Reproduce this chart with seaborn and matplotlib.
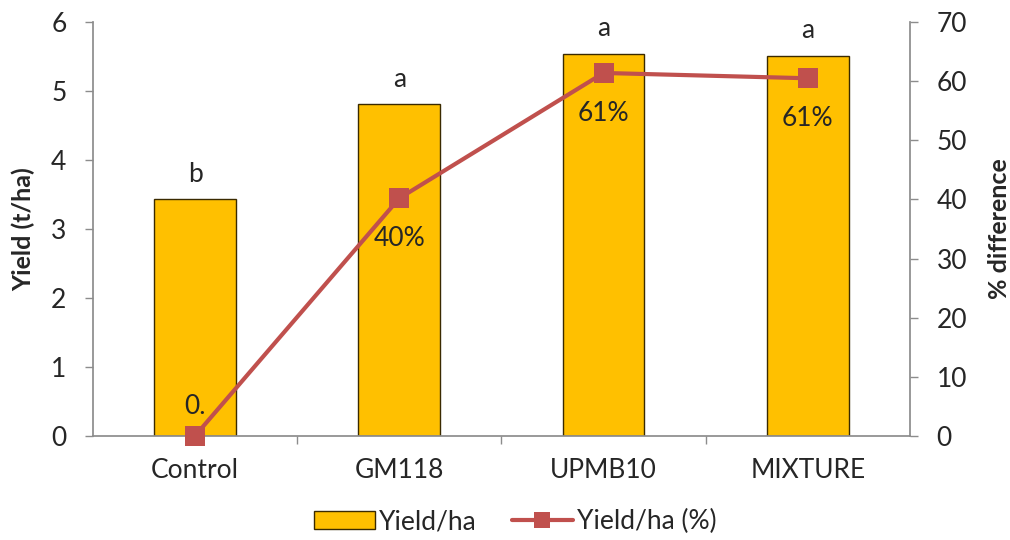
import matplotlib
matplotlib.use("Agg")
import matplotlib.pyplot as plt
import seaborn as sns
import pandas as pd
from matplotlib.lines import Line2D
from matplotlib.patches import Patch

# Treatments and measured values
treatments = ["Control", "GM118", "UPMB10", "MIXTURE"]
yield_t_ha = [3.43, 4.81, 5.54, 5.51]
pct_difference = [0.0, 40.2, 61.4, 60.5]
pct_labels = ["0.", "40%", "61%", "61%"]
letters = ["b", "a", "a", "a"]

BAR = "#FFC000"
LINE = "#C0504D"
GREY = "#8C8C8C"
TXT = "#262626"
FS = 19

sns.set_theme(style="white")
plt.rcParams["font.family"] = ["Lato", "DejaVu Sans"]

df = pd.DataFrame({"treatment": treatments, "yield": yield_t_ha, "pct": pct_difference})

fig = plt.figure(figsize=(10.1, 5.4), dpi=100)
ax = fig.add_axes([0.092, 0.193, 0.809, 0.766])

sns.barplot(data=df, x="treatment", y="yield", ax=ax, color=BAR, width=0.4,
            edgecolor="#3a2a00", linewidth=1.0, saturation=1)
ax.set_ylim(0, 6)
ax.set_xlim(-0.5, len(treatments) - 0.5)
ax.set_yticks(range(0, 7))
ax.set_xlabel("")
ax.set_ylabel("Yield (t/ha)", fontsize=18, fontweight="bold", color=TXT)
ax.yaxis.set_label_coords(-0.071, 0.5)

# significance letters above the bars
for i, (v, let) in enumerate(zip(yield_t_ha, letters)):
    ax.annotate(let, (i, v), xytext=(0, 9), textcoords="offset points",
                ha="center", va="bottom", fontsize=FS, color=TXT)

ax2 = ax.twinx()
sns.lineplot(data=df, x=range(len(treatments)), y="pct", ax=ax2, color=LINE,
             linewidth=3, marker="s", markersize=15, markeredgewidth=0,
             markerfacecolor=LINE, clip_on=False, zorder=5)
ax2.set_ylim(0, 70)
ax2.set_yticks(range(0, 71, 10))
ax2.set_ylabel("% difference", fontsize=18, fontweight="bold", color=TXT)
ax2.yaxis.set_label_coords(1.0955, 0.5)

# percentage labels beside the markers
for i, (v, lab) in enumerate(zip(pct_difference, pct_labels)):
    dy = 12 if i == 0 else -20
    ax2.annotate(lab, (i, v), xytext=(0, dy), textcoords="offset points",
                 ha="center", va="bottom" if dy > 0 else "top", fontsize=FS, color=TXT)

# axis styling
for a in (ax, ax2):
    for s in a.spines.values():
        s.set_visible(False)
    a.tick_params(axis="y", labelsize=FS, labelcolor=TXT, length=6, color=GREY, width=1)
ax.spines["left"].set_visible(True)
ax.spines["left"].set_color(GREY)
ax.spines["bottom"].set_visible(True)
ax.spines["bottom"].set_color(GREY)
ax2.spines["right"].set_visible(True)
ax2.spines["right"].set_color(GREY)
ax.tick_params(axis="y", left=True, direction="out", pad=13)
ax2.tick_params(axis="y", right=True, direction="out", pad=13)

# category ticks between groups, labels centred under the bars
ax.set_xticks([i + 0.5 for i in range(len(treatments) - 1)], minor=True)
ax.tick_params(axis="x", which="minor", bottom=True, length=6, color=GREY, direction="out")
ax.tick_params(axis="x", which="major", bottom=False, labelsize=FS, labelcolor=TXT, pad=10)
ax2.set_xlabel("")

handles = [Patch(facecolor=BAR, edgecolor="#3a2a00", linewidth=1.0),
           Line2D([0], [0], color=LINE, linewidth=3, marker="s", markersize=11,
                  markeredgewidth=0)]
fig.legend(handles, ["Yield/ha", "Yield/ha (%)"], loc="center", bbox_to_anchor=(0.51, 0.034),
           ncol=2, frameon=False, fontsize=FS, handlelength=2.3, handletextpad=0.15,
           columnspacing=1.35, labelcolor=TXT)

fig.savefig("out.png", dpi=100)
